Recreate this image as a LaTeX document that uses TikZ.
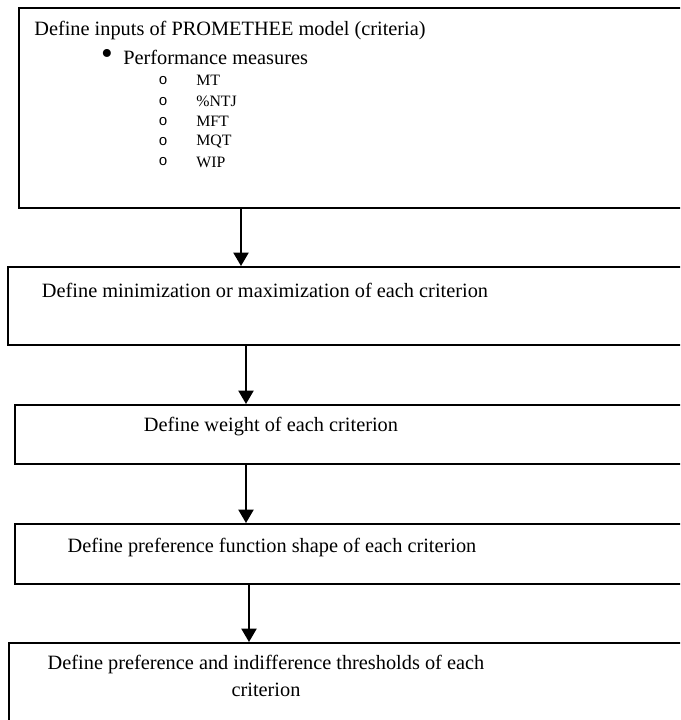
\documentclass[tikz,border=0pt]{standalone}
\usepackage{fontspec}
\setmainfont{Liberation Serif}
\newfontfamily\circfont{Liberation Mono}
\usetikzlibrary{positioning,arrows.meta}

\begin{document}
\begin{tikzpicture}[x=0.6pt,y=-0.6pt,
  stepbox/.style={draw,line width=1.2pt,anchor=north west,minimum width=440pt,inner sep=0pt},
  steptext/.style={inner sep=0pt,align=center,font=\fontsize{12.2}{16}\selectfont},
  subitem/.style={inner sep=0pt,anchor=west,font=\fontsize{9.5}{11}\selectfont},
  arr/.style={-{Triangle[width=9pt,length=8pt]},line width=1.2pt}
]
\useasboundingbox (0,0) rectangle (680,720);
\clip (0,0) rectangle (680,720);

\node[stepbox,minimum height=120pt] (inputs) at (18,7) {};
\node[stepbox,minimum height=46.8pt] (minmax) at (7,266) {};
\node[stepbox,minimum height=35.4pt] (weight) at (14,404) {};
\node[stepbox,minimum height=36pt] (shape) at (14,523) {};
\node[stepbox,minimum height=70pt] (thresh) at (8,642) {};

\node[steptext,anchor=west] (inputstxt) at (34,31) {Define inputs of PROMETHEE model (criteria)};
\node[steptext,anchor=center,font=\fontsize{20}{20}\selectfont] (bullet) at (107,57) {•};
\node[steptext,anchor=west] (perf) at (123,57) {Performance measures};
\foreach \lbl [count=\i] in {MT,\%NTJ,MFT,MQT,WIP}{
  \node[subitem,anchor=center,font=\circfont\fontsize{9}{11}\selectfont] (o\i) at (163,{60.5+20.3*\i}) {o};
  \node[subitem] (m\i) at (196,{60.5+20.3*\i}) {\lbl};
}

\node[steptext] (minmaxtxt) at (265,290) {Define minimization or maximization of each criterion};
\node[steptext] (weighttxt) at (271,427) {Define weight of each criterion};
\node[steptext] (shapetxt) at (272,547) {Define preference function shape of each criterion};
\node[steptext] (threshtxt) at (266,676) {Define preference and indifference thresholds of each\\criterion};

\draw[arr] ([xshift=223*0.6pt]inputs.south west) coordinate (a1) -- (a1 |- minmax.north);
\draw[arr] ([xshift=239*0.6pt]minmax.south west) coordinate (a2) -- (a2 |- weight.north);
\draw[arr] ([xshift=232*0.6pt]weight.south west) coordinate (a3) -- (a3 |- shape.north);
\draw[arr] ([xshift=235*0.6pt]shape.south west) coordinate (a4) -- (a4 |- thresh.north);
\end{tikzpicture}
\end{document}
